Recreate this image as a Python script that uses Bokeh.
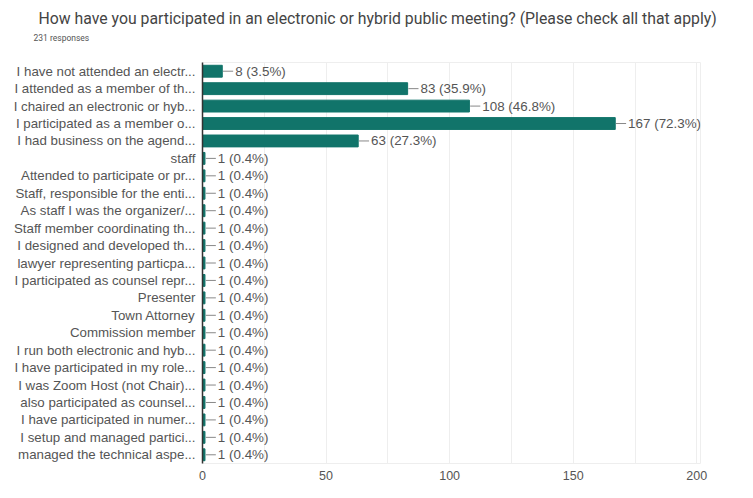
from bokeh.plotting import figure
from bokeh.models import FactorRange, Range1d, ColumnDataSource, Title, SingleIntervalTicker, FixedTicker
from bokeh.embed import file_html
from bokeh.resources import INLINE
from bokeh.core.properties import value

title_text = "How have you participated in an electronic or hybrid public meeting? (Please check all that apply)"
subtitle_text = "231 responses"

categories = [
    "I have not attended an electr...",
    "I attended as a member of th...",
    "I chaired an electronic or hyb...",
    "I participated as a member o...",
    "I had business on the agend...",
    "staff",
    "Attended to participate or pr...",
    "Staff, responsible for the enti...",
    "As staff I was the organizer/...",
    "Staff member coordinating th...",
    "I designed and developed th...",
    "lawyer representing particpa...",
    "I participated as counsel repr...",
    "Presenter",
    "Town Attorney",
    "Commission member",
    "I run both electronic and hyb...",
    "I have participated in my role...",
    "I was Zoom Host (not Chair)...",
    "also participated as counsel...",
    "I have participated in numer...",
    "I setup and managed partici...",
    "managed the technical aspe...",
]
counts = [8, 83, 108, 167, 63] + [1] * 18
percents = ["3.5%", "35.9%", "46.8%", "72.3%", "27.3%"] + ["0.4%"] * 18
x_ticks = [0, 50, 100, 150, 200]

labels = [f"{c} ({pc})" for c, pc in zip(counts, percents)]
lead = 4.4
src = ColumnDataSource(dict(
    cat=categories,
    cnt=counts,
    lab=labels,
    x0=[c + 0.3 for c in counts],
    x1=[c + lead for c in counts],
))

TFONT = "Roboto"
FONT = "Liberation Sans"
BAR = "#11746a"
TXT = "#555555"

p = figure(width=737, height=482, output_backend="svg", toolbar_location=None,
           y_range=FactorRange(factors=list(reversed(categories))),
           x_range=Range1d(0, 201.5),
           min_border_left=202, min_border_right=37, min_border_top=62, min_border_bottom=16)

p.title = None
t1 = Title(text=subtitle_text, align="left", text_font=TFONT, text_font_size="8.5px",
           text_color="#555555", text_font_style="normal", offset=-169, standoff=40)
t0 = Title(text=title_text, align="left", text_font=TFONT, text_font_size="15.8px",
           text_color="#444444", text_font_style="normal", offset=-164, standoff=-34)
p.add_layout(t1, "above")
p.add_layout(t0, "above")

p.hbar(y="cat", right="cnt", left=0, height=0.68, source=src, color=BAR)
p.segment(x0="x0", y0="cat", x1="x1", y1="cat", source=src, line_color="#888888", line_width=1)
p.text(x="x1", y="cat", text="lab", source=src, text_font=value(FONT), text_font_size="13.4px",
       text_color=TXT, text_baseline="middle", text_align="left", x_offset=2)

p.xaxis.ticker = FixedTicker(ticks=x_ticks)
p.xaxis.axis_line_color = None
p.xaxis.major_tick_line_color = None
p.xaxis.minor_tick_line_color = None
p.xaxis.major_label_text_font = FONT
p.xaxis.major_label_text_font_size = "12.5px"
p.xaxis.major_label_text_color = "#555555"
p.xaxis.major_label_standoff = 1

p.yaxis.axis_line_color = "#333333"
p.yaxis.axis_line_width = 1.5
p.yaxis.major_tick_line_color = None
p.yaxis.minor_tick_line_color = None
p.yaxis.major_label_text_font = FONT
p.yaxis.major_label_text_font_size = "13.3px"
p.yaxis.major_label_text_color = TXT
p.yaxis.major_label_standoff = 1

p.xgrid.ticker = SingleIntervalTicker(interval=25)
p.xgrid.grid_line_color = "#eeeeee"
p.ygrid.grid_line_color = None
p.outline_line_color = "#eeeeee"

open("out.html", "w").write(file_html(p, INLINE))
